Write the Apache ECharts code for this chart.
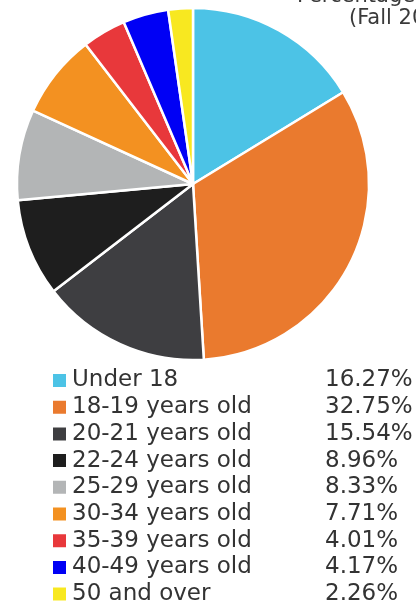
<!DOCTYPE html>
<html>
<head>
<meta charset="utf-8">
<script src="https://cdn.jsdelivr.net/npm/echarts@6/dist/echarts.min.js"></script>
<style>html,body{margin:0;padding:0;background:#fff;}#c{width:416px;height:606px;}</style>
</head>
<body>
<div id="c"></div>
<script>
const categories = ["Under 18","18-19 years old","20-21 years old","22-24 years old","25-29 years old","30-34 years old","35-39 years old","40-49 years old","50 and over"];
const values = [16.27, 32.75, 15.54, 8.96, 8.33, 7.71, 4.01, 4.17, 2.26];
const colors = ["#4cc3e6","#ea7a2e","#3e3e41","#1e1e1e","#b3b5b6","#f39121","#e8383b","#0000f5","#f8e820"];
const titleLines = ["Percentage of Students by Age", "(Fall 2019)"];

const chart = echarts.init(document.getElementById('c'), null, {renderer:'canvas'});
const FONT = 'DejaVu Sans';
chart.setOption({
  animation: false,
  color: colors,
  graphic: [
    {type:'text', x: 297, y: -14, z: 10, style:{text: titleLines[0], fontFamily: FONT, fontSize: 21, fill:'#3a3a3a', textVerticalAlign:'top'}},
    {type:'text', x: 349, y: 8, z: 10, style:{text: titleLines[1], fontFamily: FONT, fontSize: 21, fill:'#3a3a3a', textVerticalAlign:'top'}}
  ],
  legend: {
    orient: 'vertical',
    left: 46,
    top: 364,
    height: 400,
    itemWidth: 15,
    itemHeight: 15,
    itemGap: 3.7,
    icon: 'rect',
    selectedMode: false,
    data: categories,
    formatter: function(name){
      const i = categories.indexOf(name);
      return '{n|' + name + '}{v|' + values[i].toFixed(2) + '%}';
    },
    textStyle: {
      rich: {
        n: {width: 253, fontFamily: FONT, fontSize: 23, color:'#333', lineHeight: 20},
        v: {fontFamily: FONT, fontSize: 23, color:'#333', lineHeight: 20}
      }
    }
  },
  series: [{
    type: 'pie',
    center: [193, 184],
    radius: 176,
    startAngle: 90,
    clockwise: true,
    label: {show: false},
    labelLine: {show: false},
    itemStyle: {borderColor: '#fff', borderWidth: 2.5},
    emphasis: {disabled: true},
    data: categories.map((c, i) => ({name: c, value: values[i]}))
  }]
});
</script>
</body>
</html>
